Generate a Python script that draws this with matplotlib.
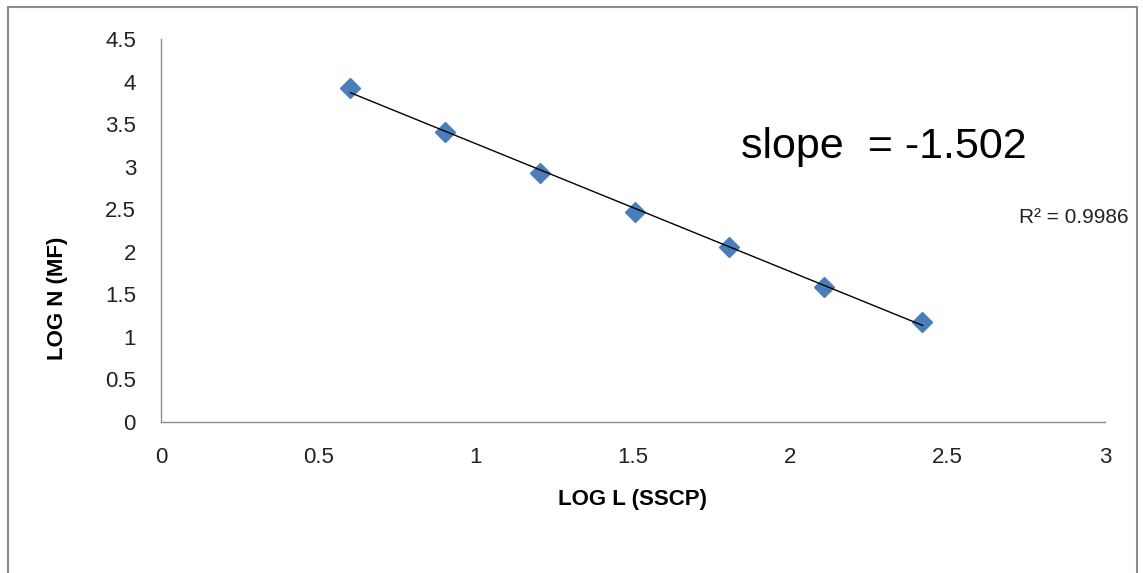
import matplotlib.pyplot as plt
import numpy as np
from matplotlib.patches import Rectangle

# data
log_l = [0.602, 0.903, 1.204, 1.505, 1.806, 2.107, 2.42]
log_n = [3.92, 3.41, 2.93, 2.47, 2.06, 1.59, 1.18]
x_ticks = [0, 0.5, 1, 1.5, 2, 2.5, 3]
y_ticks = [0, 0.5, 1, 1.5, 2, 2.5, 3, 3.5, 4, 4.5]

plt.rcParams["font.family"] = ["Liberation Sans", "DejaVu Sans"]

fig = plt.figure(figsize=(11.43, 5.73), dpi=100)
ax = fig.add_axes([161 / 1143, 1 - 422 / 573, (1105 - 161) / 1143, (422 - 39) / 573])

# outer chart border (bottom edge runs off the image)
fig.patches.append(Rectangle((8 / 1143, -0.05), (1137 - 8) / 1143, 1.05 - 7 / 573,
                             transform=fig.transFigure, fill=False,
                             edgecolor="#8c8c8c", linewidth=1.5))

# linear trendline over the data range
coef = np.polyfit(log_l, log_n, 1)
xs = np.array([log_l[0], log_l[-1]])
ax.plot(xs, np.polyval(coef, xs), color="black", linewidth=1.0, zorder=3)
ax.plot(log_l, log_n, linestyle="none", marker="D", markersize=10,
        color="#4a7ebb", zorder=2)

ax.set_xlim(0, 3)
ax.set_ylim(0, 4.5)
ax.set_xticks(x_ticks)
ax.set_yticks(y_ticks)
ax.set_xticklabels([f"{v:g}" for v in x_ticks])
ax.set_yticklabels([f"{v:g}" for v in y_ticks])
ax.tick_params(length=0, labelsize=16, pad=18, colors="#222222")
for s in ("top", "right"):
    ax.spines[s].set_visible(False)
for s in ("left", "bottom"):
    ax.spines[s].set_color("#8c8c8c")
    ax.spines[s].set_linewidth(1.0)

fig.text(57 / 1143, 1 - 298 / 573, "LOG N (MF)", rotation=90, ha="center",
         va="center", fontsize=16, fontweight="bold")
fig.text(633 / 1143, 1 - 500 / 573, "LOG L (SSCP)", ha="center", va="center",
         fontsize=16, fontweight="bold")

fig.text(884 / 1143, 1 - 147 / 573, "slope  = -1.502", ha="center", va="center",
         fontsize=31)
fig.text(1074 / 1143, 1 - 218 / 573, "R² = 0.9986", ha="center", va="center",
         fontsize=15, color="#222222")

fig.savefig("out.png", dpi=100)
